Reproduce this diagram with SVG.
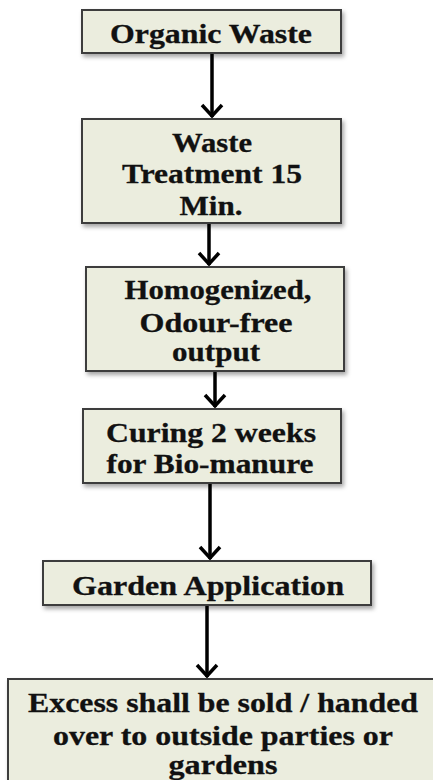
<svg xmlns="http://www.w3.org/2000/svg" width="433" height="780" viewBox="0 0 433 780">
<style>
.box{fill:#EBEDDE;stroke:#3c3c3c;stroke-width:2;filter:url(#sh)}
.t{font-family:"Liberation Serif","Times New Roman",serif;font-weight:bold;font-size:27px;fill:#111;stroke:#111;stroke-width:0.3;text-anchor:middle}
.c{stroke:#000;stroke-width:3.5;fill:none;marker-end:url(#ah)}
</style>
<defs>
<filter id="sh" x="-10%" y="-10%" width="130%" height="140%">
<feDropShadow dx="2" dy="3" stdDeviation="2" flood-color="#000" flood-opacity="0.35"/>
</filter>
<marker id="ah" markerUnits="userSpaceOnUse" viewBox="-16 -14 20 28" refX="0" refY="0" markerWidth="20" markerHeight="28" orient="auto">
<path d="M-12,-10 L-1,0 L-12,10" fill="none" stroke="#000" stroke-width="3.5"/>
</marker>
</defs>
<g id="connectors">
<path class="c" d="M212,53 V117"/>
<path class="c" d="M209,223 V265"/>
<path class="c" d="M215,372 V407"/>
<path class="c" d="M210,483 V559"/>
<path class="c" d="M207,605 V677"/>
</g>
<g id="n1">
<rect class="box" x="82" y="10" width="259" height="43"/>
<text class="t" x="211" y="43" textLength="202" lengthAdjust="spacingAndGlyphs">Organic Waste</text>
</g>
<g id="n2">
<rect class="box" x="82" y="119" width="259" height="104"/>
<text class="t" x="212" y="152" textLength="80" lengthAdjust="spacingAndGlyphs">Waste</text>
<text class="t" x="212" y="183" textLength="180" lengthAdjust="spacingAndGlyphs">Treatment 15</text>
<text class="t" x="211" y="215" textLength="63" lengthAdjust="spacingAndGlyphs">Min.</text>
</g>
<g id="n3">
<rect class="box" x="86" y="267" width="258" height="104"/>
<text class="t" x="218" y="299" textLength="187" lengthAdjust="spacingAndGlyphs">Homogenized,</text>
<text class="t" x="216" y="332" textLength="153" lengthAdjust="spacingAndGlyphs">Odour-free</text>
<text class="t" x="216" y="361" textLength="88" lengthAdjust="spacingAndGlyphs">output</text>
</g>
<g id="n4">
<rect class="box" x="83" y="409" width="258" height="74"/>
<text class="t" x="211" y="442" textLength="210" lengthAdjust="spacingAndGlyphs">Curing 2 weeks</text>
<text class="t" x="210" y="473" textLength="207" lengthAdjust="spacingAndGlyphs">for Bio-manure</text>
</g>
<g id="n5">
<rect class="box" x="43" y="561" width="328" height="44"/>
<text class="t" x="208" y="595" textLength="272" lengthAdjust="spacingAndGlyphs">Garden Application</text>
</g>
<g id="n6">
<rect class="box" x="8" y="679" width="440" height="120"/>
<text class="t" x="223" y="712" textLength="390" lengthAdjust="spacingAndGlyphs">Excess shall be sold / handed</text>
<text class="t" x="223" y="745" textLength="340" lengthAdjust="spacingAndGlyphs">over to outside parties or</text>
<text class="t" x="223" y="774" textLength="109" lengthAdjust="spacingAndGlyphs">gardens</text>
</g>
</svg>
